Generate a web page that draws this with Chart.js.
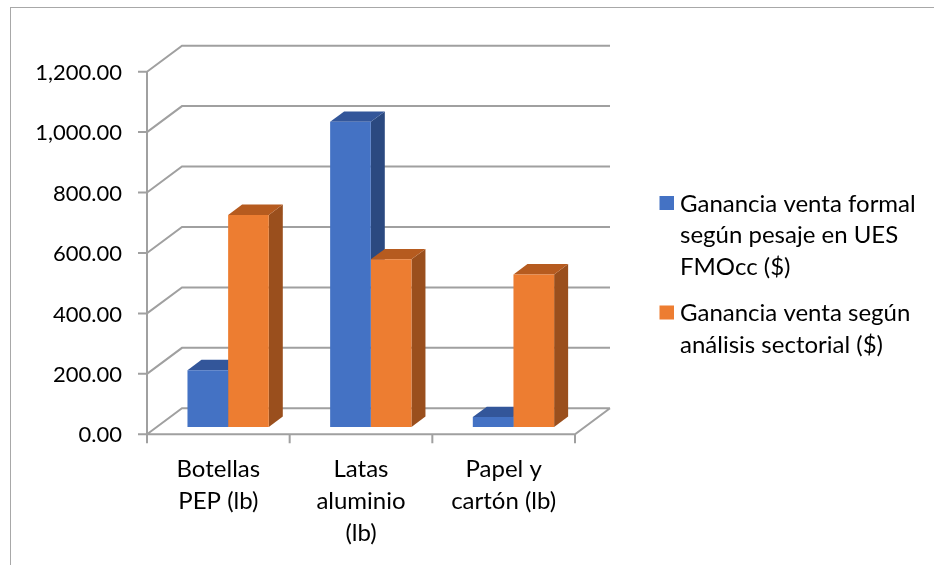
<!DOCTYPE html>
<html>
<head>
<meta charset="utf-8">
<script src="https://cdn.jsdelivr.net/npm/chart.js@4/dist/chart.umd.min.js"></script>
<style>
  html, body { margin: 0; padding: 0; background: #ffffff; }
  #wrap { width: 934px; height: 565px; position: relative; }
</style>
</head>
<body>
<div id="wrap"><canvas id="chart" width="934" height="565"></canvas></div>
<script>
// Categories (multi-line labels under each group)
const categories = [
  ["Botellas", "PEP (lb)"],
  ["Latas", "aluminio", "(lb)"],
  ["Papel y", "cartón (lb)"]
];

// Series
const seriesFormal = [188, 1010, 33];
const seriesSectorial = [702, 555, 505];

const seriesNames = [
  "Ganancia venta formal según pesaje en UES FMOcc ($)",
  "Ganancia venta según análisis sectorial ($)"
];
const legendLines = [
  ["Ganancia venta formal", "según pesaje en UES", "FMOcc ($)"],
  ["Ganancia venta según", "análisis sectorial ($)"]
];

// Value axis
const yMin = 0;
const yMax = 1200;
const yStep = 200;

const FONT = "Lato, 'Open Sans', sans-serif";
const TEXT_COLOR = "#000000";
const GRID_COLOR = "#a0a0a0";

const colors = [
  { front: "#4472C4", top: "#33569A", side: "#2B4980" },
  { front: "#ED7D31", top: "#B65B1F", side: "#9A4F1D" }
];

// 3-D box geometry: full depth of the floor/walls, and where the bars sit in it
const DEPTH_X = 35, DEPTH_Y = 26;
const BAR_Z0 = 0.28, BAR_Z1 = 0.68;

const fmt = v => v.toLocaleString("en-US", { minimumFractionDigits: 2, maximumFractionDigits: 2 });

const box3d = {
  id: "box3d",
  beforeDatasetsDraw(chart) {
    const { ctx, chartArea: a, scales: { x, y } } = chart;
    const fx = -BAR_Z0 * DEPTH_X, fy = BAR_Z0 * DEPTH_Y;           // to front wall
    const bx = (1 - BAR_Z0) * DEPTH_X, by = -(1 - BAR_Z0) * DEPTH_Y; // to back wall
    ctx.save();
    ctx.strokeStyle = GRID_COLOR;
    ctx.lineWidth = 2;
    ctx.lineCap = "butt";
    ctx.beginPath();
    y.ticks.forEach(t => {
      const py = y.getPixelForValue(t.value);
      ctx.moveTo(a.left + fx, py + fy);
      ctx.lineTo(a.left + bx, py + by);
      ctx.lineTo(a.right + bx, py + by);
      ctx.moveTo(a.left + fx - 9, py + fy);
      ctx.lineTo(a.left + fx, py + fy);
    });
    const p0 = y.getPixelForValue(yMin);
    const pTop = y.getPixelForValue(yMax);
    ctx.moveTo(a.left + fx, pTop + fy);
    ctx.lineTo(a.left + fx, p0 + fy);
    ctx.moveTo(a.left + fx, p0 + fy);
    ctx.lineTo(a.right + fx, p0 + fy);
    ctx.lineTo(a.right + bx, p0 + by);
    // category boundary ticks
    const n = categories.length;
    const step = (a.right - a.left) / n;
    for (let i = 0; i <= n; i++) {
      const px = a.left + i * step + fx;
      ctx.moveTo(px, p0 + fy);
      ctx.lineTo(px, p0 + fy + 9);
    }
    ctx.stroke();

    // top and side faces of the bars
    const ddx = (BAR_Z1 - BAR_Z0) * DEPTH_X, ddy = -(BAR_Z1 - BAR_Z0) * DEPTH_Y;
    for (let i = 0; i < n; i++) {
      chart.data.datasets.forEach((ds, d) => {
        const el = chart.getDatasetMeta(d).data[i];
        const p = el.getProps(["x", "y", "base", "width"], true);
        const l = p.x - p.width / 2, r = p.x + p.width / 2;
        ctx.fillStyle = colors[d].side;
        ctx.beginPath();
        ctx.moveTo(r, p.y);
        ctx.lineTo(r + ddx, p.y + ddy);
        ctx.lineTo(r + ddx, p.base + ddy);
        ctx.lineTo(r, p.base);
        ctx.closePath();
        ctx.fill();
        ctx.fillStyle = colors[d].top;
        ctx.beginPath();
        ctx.moveTo(l, p.y);
        ctx.lineTo(l + ddx, p.y + ddy);
        ctx.lineTo(r + ddx, p.y + ddy);
        ctx.lineTo(r, p.y);
        ctx.closePath();
        ctx.fill();
      });
    }
    ctx.restore();
  },
  afterDraw(chart) {
    const { ctx, chartArea: a, scales: { x, y } } = chart;
    const fx = -BAR_Z0 * DEPTH_X, fy = BAR_Z0 * DEPTH_Y;
    ctx.save();
    // outer frame
    ctx.strokeStyle = "#a8a8a8";
    ctx.lineWidth = 1;
    ctx.strokeRect(10.5, 7.5, 1000, 1000);

    ctx.fillStyle = TEXT_COLOR;
    ctx.font = "22px " + FONT;
    // value labels
    ctx.textAlign = "right";
    ctx.textBaseline = "middle";
    y.ticks.forEach(t => {
      const py = y.getPixelForValue(t.value) + fy;
      ctx.fillText(fmt(t.value), 122, py + 1);
    });
    // category labels
    ctx.font = "24px " + FONT;
    ctx.textAlign = "center";
    categories.forEach((lines, i) => {
      const cx = x.getPixelForValue(i) + fx;
      lines.forEach((s, k) => ctx.fillText(s, cx, 469 + k * 32));
    });
    // legend
    ctx.textAlign = "left";
    const itemTops = [203, 312.5];
    legendLines.forEach((lines, d) => {
      const cy = itemTops[d];
      ctx.fillStyle = colors[d].front;
      ctx.fillRect(659.5, cy - 7, 14.5, 14);
      ctx.fillStyle = TEXT_COLOR;
      lines.forEach((s, k) => ctx.fillText(s, 680, cy + k * 31.5 + 1));
    });
    ctx.restore();
  }
};

new Chart(document.getElementById("chart"), {
  type: "bar",
  data: {
    labels: categories,
    datasets: [
      { label: seriesNames[0], data: seriesFormal, backgroundColor: colors[0].front, borderWidth: 0 },
      { label: seriesNames[1], data: seriesSectorial, backgroundColor: colors[1].front, borderWidth: 0 }
    ]
  },
  options: {
    responsive: false,
    devicePixelRatio: 1,
    animation: false,
    layout: { padding: { left: 156.8, right: 349.2, top: 64.4, bottom: 138 } },
    datasets: { bar: { categoryPercentage: 0.57, barPercentage: 1.0 } },
    scales: {
      x: { display: false },
      y: { display: false, min: yMin, max: yMax, ticks: { stepSize: yStep } }
    },
    plugins: { legend: { display: false }, tooltip: { enabled: false } }
  },
  plugins: [box3d]
});
</script>
</body>
</html>
